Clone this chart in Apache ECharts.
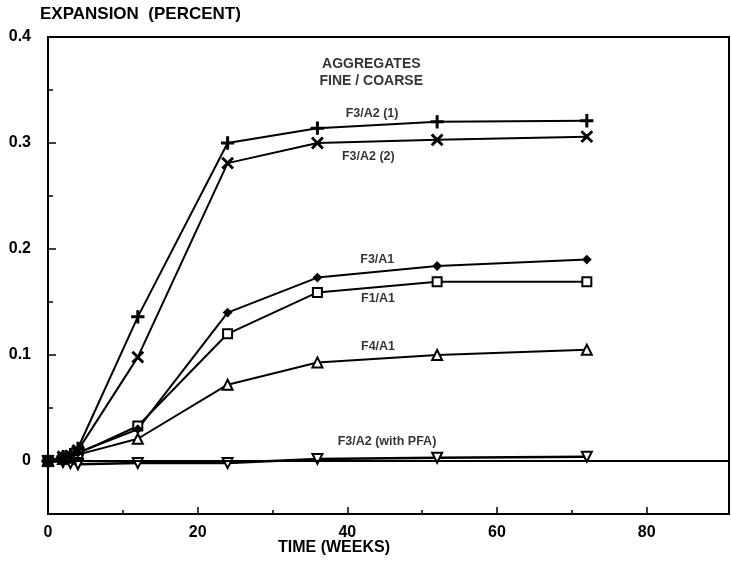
<!DOCTYPE html>
<html>
<head>
<meta charset="utf-8">
<script src="https://cdn.jsdelivr.net/npm/echarts@6/dist/echarts.min.js"></script>
<style>
html,body{margin:0;padding:0;background:#fff;}
#c{width:731px;height:564px;}
</style>
</head>
<body>
<div id="c"></div>
<script>
// ---- data ----
const weeks = [0, 2, 3, 4, 12, 24, 36, 52, 72];
const f3a2_1 = [0, 0.004, 0.006, 0.012, 0.136, 0.300, 0.314, 0.320, 0.321];
const f3a2_2 = [0, 0.004, 0.005, 0.010, 0.098, 0.281, 0.300, 0.303, 0.306];
const f3a1   = [0, 0.003, 0.004, 0.008, 0.030, 0.140, 0.173, 0.184, 0.190];
const f1a1   = [0, 0.003, 0.004, 0.007, 0.033, 0.120, 0.159, 0.169, 0.169];
const f4a1   = [0, 0.002, 0.003, 0.006, 0.021, 0.072, 0.093, 0.100, 0.105];
const f3a2pfa= [0, -0.001, -0.002, -0.003, -0.002, -0.002, 0.002, 0.003, 0.004];
const seriesNames = ['F3/A2 (1)', 'F3/A2 (2)', 'F3/A1', 'F1/A1', 'F4/A1', 'F3/A2 (with PFA)'];
const xTickLabels = [0, 20, 40, 60, 80];
const xMinorTicks = [10, 30, 50, 70];
const yTickLabels = [0, 0.1, 0.2, 0.3, 0.4];
// annotation anchors in data units [week, expansion]
const annText = ['AGGREGATES', 'FINE / COARSE', 'F3/A2 (1)', 'F3/A2 (2)', 'F3/A1', 'F1/A1', 'F4/A1', 'F3/A2 (with PFA)'];
const annX = [43.2, 43.2, 43.3, 42.8, 44.0, 44.1, 44.1, 45.3];
const annY = [0.374, 0.358, 0.328, 0.287, 0.190, 0.153, 0.108, 0.018];

const FONT = '"Liberation Sans", Arial, Helvetica, sans-serif';
const pair = arr => weeks.map((w, i) => [w, arr[i]]);

const plusPath = 'path://M4.3,0 h1.4 v4.3 h4.3 v1.4 h-4.3 v4.3 h-1.4 v-4.3 h-4.3 v-1.4 h4.3 z';
const crossPath = 'path://M1,0 L5,4 L9,0 L10,1 L6,5 L10,9 L9,10 L5,6 L1,10 L0,9 L4,5 L0,1 z';

function lineSeries(name, arr, symbol, size, extra) {
  return Object.assign({
    name: name,
    type: 'line',
    data: pair(arr),
    symbol: symbol,
    symbolSize: size,
    showAllSymbol: true,
    lineStyle: { color: '#000', width: 2 },
    itemStyle: { color: '#000', borderColor: '#000', borderWidth: 1.3 },
    z: 3
  }, extra || {});
}

const chart = echarts.init(document.getElementById('c'), null, { renderer: 'canvas' });
chart.setOption({
  backgroundColor: '#fff',
  animation: false,
  textStyle: { fontFamily: FONT },
  grid: { left: 48, right: 2, top: 37, bottom: 50, show: true, borderColor: '#000', borderWidth: 2 },
  xAxis: [{
    type: 'value', min: 0, max: 91, interval: 20,
    axisLine: { show: true, onZero: false, lineStyle: { color: '#000', width: 2 } },
    axisTick: { show: true, inside: true, length: 7, lineStyle: { color: '#000', width: 1.5 }, customValues: xTickLabels },
    axisLabel: { customValues: xTickLabels, color: '#000', fontSize: 16, fontWeight: 'bold', fontFamily: FONT, margin: 11 },
    splitLine: { show: false }
  }, {
    type: 'value', min: 0, max: 91, position: 'bottom',
    axisLine: { show: false, onZero: false },
    axisTick: { show: true, inside: true, length: 4, lineStyle: { color: '#000', width: 1.5 }, customValues: xMinorTicks },
    axisLabel: { show: false },
    splitLine: { show: false }
  }],
  yAxis: [{
    type: 'value', min: -0.05, max: 0.4, interval: 0.05,
    axisLine: { show: true, onZero: false, lineStyle: { color: '#000', width: 2 } },
    axisTick: { show: true, inside: true, length: 8, lineStyle: { color: '#000', width: 1.5 }, customValues: yTickLabels },
    axisLabel: {
      customValues: yTickLabels, color: '#000', fontSize: 16, fontWeight: 'bold', fontFamily: FONT, margin: 17,
      formatter: v => (Math.abs(v) < 1e-9 ? '0' : v.toFixed(1))
    },
    splitLine: { show: false }
  }, {
    type: 'value', min: -0.05, max: 0.4, interval: 0.05, position: 'left',
    axisLine: { show: false, onZero: false },
    axisTick: { show: true, inside: true, length: 5, lineStyle: { color: '#000', width: 1.5 } },
    axisLabel: { show: false },
    splitLine: { show: false }
  }],
  graphic: [
    { type: 'text', left: 40, top: 6, style: { text: 'EXPANSION  (PERCENT)', font: 'bold 17px ' + FONT, fill: '#000' } },
    { type: 'text', left: 278, top: 540, style: { text: 'TIME (WEEKS)', font: 'bold 16px ' + FONT, fill: '#000' } }
  ],
  series: [
    lineSeries(seriesNames[5], f3a2pfa, 'emptyTriangle', 10, {
      symbolRotate: 180,
      lineStyle: { color: '#000', width: 2.5 },
      markLine: {
        silent: true, symbol: 'none', label: { show: false },
        lineStyle: { color: '#000', width: 2, type: 'solid' },
        data: [{ yAxis: 0 }]
      }
    }),
    lineSeries(seriesNames[4], f4a1, 'emptyTriangle', 10),
    lineSeries(seriesNames[3], f1a1, 'emptyRect', 9),
    lineSeries(seriesNames[2], f3a1, 'diamond', 8),
    lineSeries(seriesNames[1], f3a2_2, crossPath, 11),
    lineSeries(seriesNames[0], f3a2_1, plusPath, 12),
    {
      name: 'annotations', type: 'scatter', symbolSize: 0, silent: true, z: 5,
      data: annText.map((t, i) => ({
        name: t, value: [annX[i], annY[i]],
        label: i < 2 ? { fontSize: 14 } : {}
      })),
      label: {
        show: true, position: 'inside', color: '#000', fontFamily: FONT, fontWeight: 'bold',
        formatter: p => p.name,
        fontSize: 12.5
      }
    }
  ]
});
</script>
</body>
</html>
